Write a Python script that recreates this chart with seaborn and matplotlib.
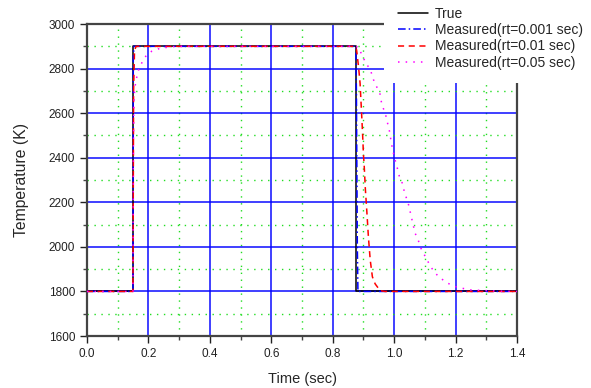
import matplotlib
matplotlib.use("Agg")
import matplotlib.pyplot as plt
import seaborn as sns
import pandas as pd
from matplotlib.ticker import MultipleLocator

# true temperature step
t_true = [0.0, 0.15, 0.15, 0.875, 0.875, 1.4]
T_true = [1800, 1800, 2900, 2900, 1800, 1800]

# measured, rt = 0.001 sec
t_fast = [0.0, 0.15, 0.151, 0.153, 0.875, 0.877, 0.880, 0.882, 1.4]
T_fast = [1800, 1800, 2850, 2900, 2900, 2700, 2000, 1800, 1800]

# measured, rt = 0.01 sec
t_mid = [0.0, 0.15, 0.152, 0.155, 0.16, 0.875, 0.878, 0.884, 0.889, 0.892, 0.895,
         0.898, 0.900, 0.902, 0.906, 0.911, 0.916, 0.922, 0.929, 0.938, 0.954, 0.97, 1.4]
T_mid = [1800, 1800, 2700, 2880, 2900, 2900, 2880, 2808, 2734, 2651, 2569,
         2480, 2412, 2375, 2263, 2158, 2046, 1941, 1866, 1834, 1804, 1800, 1800]

# measured, rt = 0.05 sec
t_slow = [0.0, 0.15, 0.151, 0.153, 0.156, 0.160, 0.169, 0.178, 0.194, 0.211, 0.24, 0.29,
          0.875, 0.885, 0.895, 0.91, 0.922, 0.933, 0.954, 0.96, 0.971, 0.976, 0.984,
          0.992, 1.0, 1.009, 1.017, 1.025, 1.033, 1.047, 1.058, 1.068, 1.076, 1.087,
          1.104, 1.12, 1.144, 1.174, 1.204, 1.248, 1.291, 1.35, 1.4]
T_slow = [1800, 1800, 2400, 2650, 2712, 2749, 2797, 2824, 2861, 2878, 2892, 2900,
          2900, 2895, 2860, 2820, 2797, 2749, 2685, 2637, 2600, 2569, 2524,
          2457, 2405, 2360, 2315, 2292, 2248, 2188, 2121, 2061, 2039, 1994,
          1949, 1908, 1866, 1837, 1819, 1807, 1804, 1801, 1800]

series = [
    ("True", t_true, T_true, "black", "-"),
    ("Measured(rt=0.001 sec)", t_fast, T_fast, "blue", (0, (5, 2, 1, 2))),
    ("Measured(rt=0.01 sec)", t_mid, T_mid, "red", (0, (4, 3))),
    ("Measured(rt=0.05 sec)", t_slow, T_slow, "magenta", (0, (1, 4))),
]

sns.set_style("ticks")
plt.rcParams["font.family"] = ["Liberation Sans", "DejaVu Sans"]

fig = plt.figure(figsize=(5.91, 3.88), dpi=100)
ax = fig.add_axes([0.147, 0.134, 0.728, 0.804])

for name, t, T, col, ls in series:
    df = pd.DataFrame({"t": t, "T": T})
    sns.lineplot(data=df, x="t", y="T", ax=ax, color=col, linestyle=ls,
                 linewidth=1.1, estimator=None, sort=False, label=name, zorder=3)

ax.set_xlim(0, 1.4)
ax.set_ylim(1600, 3000)
ax.xaxis.set_major_locator(MultipleLocator(0.2))
ax.xaxis.set_minor_locator(MultipleLocator(0.1))
ax.yaxis.set_major_locator(MultipleLocator(200))
ax.yaxis.set_minor_locator(MultipleLocator(100))
ax.xaxis.set_major_formatter(plt.FuncFormatter(lambda v, p: f"{v:.1f}"))

ax.grid(which="major", color="blue", linewidth=1.4, alpha=0.75, zorder=1)
ax.grid(which="minor", color="#22dd22", linestyle=(0, (1, 4)), linewidth=1.0, zorder=1)
ax.set_axisbelow(True)

for s in ax.spines.values():
    s.set_color("#444444")
    s.set_linewidth(1.6)

ax.tick_params(which="major", direction="out", length=5, width=1, labelsize=8.5, colors="#222222")
ax.tick_params(which="minor", direction="out", length=3, width=1, colors="#444444")

ax.set_xlabel("Time (sec)", fontsize=10.5, labelpad=9)
ax.set_ylabel("Temperature (K)", fontsize=11.3, labelpad=14)

leg = ax.legend(loc="upper right", bbox_to_anchor=(1.022, 1.035), bbox_transform=fig.transFigure,
                fontsize=10, handlelength=2.2, handletextpad=0.5, labelspacing=0.15,
                borderpad=1.0, frameon=True, fancybox=False, framealpha=1)
leg.get_frame().set_facecolor("white")
leg.get_frame().set_edgecolor("none")
leg.set_zorder(10)

fig.savefig("out.png", dpi=100)
